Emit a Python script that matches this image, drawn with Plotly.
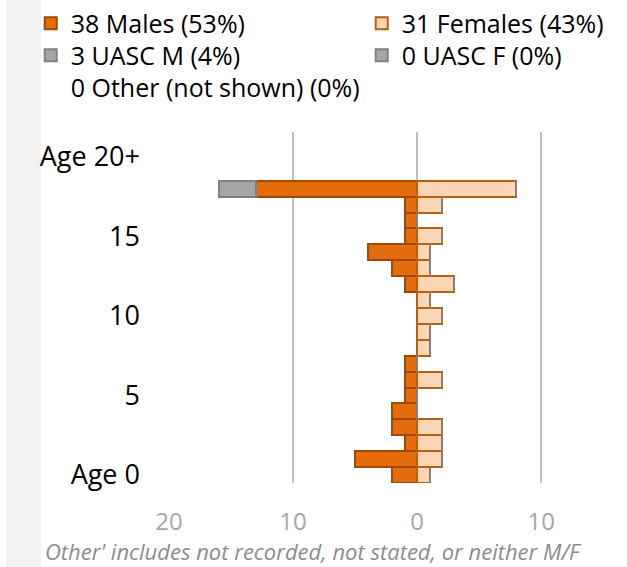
import plotly.graph_objects as go

ages = list(range(0, 19))
males = [2, 5, 1, 2, 2, 1, 1, 1, 0, 0, 0, 0, 1, 2, 4, 1, 1, 1, 13]
females = [1, 2, 2, 2, 0, 0, 2, 0, 1, 1, 2, 1, 3, 1, 1, 2, 0, 2, 8]
uasc_m = [0] * 18 + [3]
uasc_f = [0] * 19
other = [0] * 19

legend_names = ["38 Males (53%)", "31 Females (43%)", "3 UASC M (4%)",
                "0 UASC F (0%)", "0 Other (not shown) (0%)"]
y_tickvals = [0, 5, 10, 15, 20]
y_ticktext = ["Age 0", "5", "10", "15", "Age 20+"]
x_tickvals = [-20, -10, 0, 10]
x_ticktext = ["20", "10", "0", "10"]
footnote = "Other' includes not recorded, not stated, or neither M/F"

FONT = "Open Sans"
W, H = 627, 567
L, R, T, B = 169, 0, 130, 84
pw = W - L - R
ph = H - T - B
PB = H - B  # pixel y of plot bottom


def px_x(p):
    return (p - L) / pw


def px_y(p):
    return (PB - p) / ph


fig = go.Figure()
fig.add_trace(go.Bar(y=ages, x=[-v for v in males], orientation="h", name=legend_names[0],
                     marker=dict(color="#E46C0A", line=dict(color="#9E4A07", width=2)),
                     legend="legend"))
fig.add_trace(go.Bar(y=ages, x=[-v for v in uasc_m], orientation="h", name=legend_names[2],
                     marker=dict(color="#A6A6A6", line=dict(color="#808080", width=2)),
                     legend="legend3"))
fig.add_trace(go.Bar(y=ages, x=females, orientation="h", name=legend_names[1],
                     marker=dict(color="#FCD5B5", line=dict(color="#B4600F", width=2)),
                     legend="legend2"))
fig.add_trace(go.Bar(y=ages, x=uasc_f, orientation="h", name=legend_names[3],
                     marker=dict(color="#A6A6A6", line=dict(color="#808080", width=2)),
                     legend="legend4"))
fig.add_trace(go.Bar(y=ages, x=other, orientation="h", name=legend_names[4],
                     marker=dict(color="rgba(0,0,0,0)", line=dict(color="rgba(0,0,0,0)", width=0)),
                     legend="legend5"))

fig.add_shape(type="rect", xref="paper", yref="paper",
              x0=px_x(6), x1=px_x(41), y0=px_y(H + 5), y1=px_y(-5),
              fillcolor="#F2F2F2", line=dict(width=0), layer="below")

fig.add_annotation(text=footnote, xref="paper", yref="paper",
                   x=px_x(313), y=px_y(551), showarrow=False,
                   xanchor="center", yanchor="middle",
                   font=dict(family=FONT, size=22, color="#8C8C8C", style="italic"))

leg_common = dict(orientation="v", xanchor="left", yanchor="middle",
                  font=dict(family=FONT, size=25, color="#000000"),
                  itemclick=False, bgcolor="rgba(0,0,0,0)", traceorder="normal")

col1, col2 = 30.7, 361.7
row1, row2, row3 = 21, 53, 85

fig.update_layout(
    width=W, height=H,
    margin=dict(l=L, r=R, t=T, b=B, pad=0),
    barmode="relative", bargap=0,
    plot_bgcolor="white", paper_bgcolor="white",
    font=dict(family=FONT, color="#000000"),
    showlegend=True,
    legend=dict(x=px_x(col1), y=px_y(row1), **leg_common),
    legend2=dict(x=px_x(col2), y=px_y(row1), **leg_common),
    legend3=dict(x=px_x(col1), y=px_y(row2), **leg_common),
    legend4=dict(x=px_x(col2), y=px_y(row2), **leg_common),
    legend5=dict(x=px_x(col1), y=px_y(row3), **leg_common),
    xaxis=dict(range=[-20, (W - R - 417.3) / 12.4], tickvals=x_tickvals, ticktext=x_ticktext,
               showgrid=True, gridcolor="#BFBFBF", gridwidth=1.5, zeroline=False,
               showline=False, ticks="", ticklabelstandoff=22,
               tickfont=dict(family=FONT, size=24, color="#A6A6A6")),
    yaxis=dict(range=[-0.5, 21.56], tickvals=y_tickvals, ticktext=y_ticktext,
               showgrid=False, zeroline=False, showline=False, ticks="",
               ticklabelstandoff=28,
               tickfont=dict(family=FONT, size=27, color="#000000")),
)

fig.write_html("out.html", config={"displayModeBar": False},
               post_script="document.body.style.margin='0';")
